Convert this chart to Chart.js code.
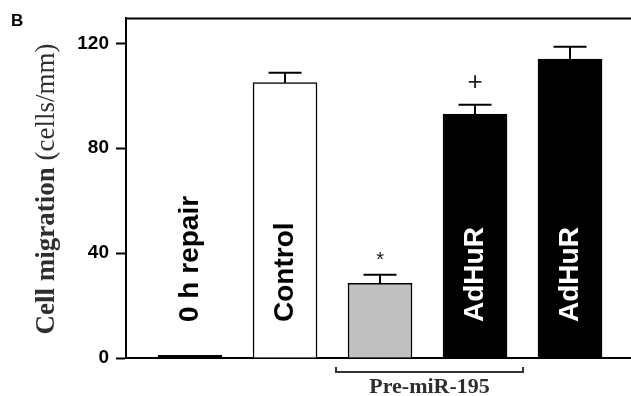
<!DOCTYPE html>
<html>
<head>
<meta charset="utf-8">
<script src="https://cdn.jsdelivr.net/npm/chart.js@4"></script>
<style>
  html, body { margin: 0; padding: 0; background: #fff; }
</style>
</head>
<body>
<canvas id="bar-chart" width="631" height="396"></canvas>
<script>
var barLabels = ["0 h repair", "Control", "", "AdHuR", "AdHuR"];
var migration = [1, 105, 28.5, 93, 114];
var errors = [0, 3.8, 3.2, 3.6, 4.7];
var marks = ["", "", "*", "+", ""];
var yTicks = [0, 40, 80, 120];
var bracketGroup = [2, 3];
var bracketLabel = "Pre-miR-195";

var ink = "#000000";
var titleInk = "#2e2e2e";

var extras = {
  id: "extras",
  afterDatasetsDraw: function (chart) {
    var ctx = chart.ctx;
    var x = chart.scales.x;
    var y = chart.scales.y;
    var area = chart.chartArea;
    ctx.save();

    // top frame line
    ctx.strokeStyle = ink;
    ctx.lineWidth = 2;
    ctx.beginPath();
    ctx.moveTo(area.left - 1, area.top);
    ctx.lineTo(area.right, area.top);
    ctx.stroke();

    // error bars + significance marks
    migration.forEach(function (v, i) {
      var px = x.getPixelForValue(i);
      var top = y.getPixelForValue(v);
      var cap = y.getPixelForValue(v + errors[i]);
      if (errors[i] > 0) {
        ctx.beginPath();
        ctx.moveTo(px, top);
        ctx.lineTo(px, cap);
        ctx.moveTo(px - 16.5, cap);
        ctx.lineTo(px + 16.5, cap);
        ctx.stroke();
      }
      if (marks[i]) {
        ctx.fillStyle = "#222";
        ctx.textAlign = "center";
        ctx.textBaseline = "middle";
        ctx.font = marks[i] == "*" ? "20px 'Liberation Sans'" : "26px 'Liberation Sans'";
        ctx.fillText(marks[i], px, cap - (marks[i] == "*" ? 14 : 22));
      }
    });

    // labels inside the bars
    var base = y.getPixelForValue(0);
    barLabels.forEach(function (t, i) {
      if (!t) return;
      ctx.save();
      ctx.translate(x.getPixelForValue(i), base - 36);
      ctx.rotate(-Math.PI / 2);
      ctx.fillStyle = i >= 3 ? "#ffffff" : ink;
      ctx.font = "bold 28px 'Liberation Sans'";
      ctx.textAlign = "left";
      ctx.textBaseline = "middle";
      ctx.fillText(t, 0, 0);
      ctx.restore();
    });

    // bracket under the pre-miR-195 group
    var bx1 = x.getPixelForValue(bracketGroup[0]) - 44;
    var bx2 = x.getPixelForValue(bracketGroup[1]) + 48;
    var by = base + 14;
    ctx.strokeStyle = "#333";
    ctx.beginPath();
    ctx.moveTo(bx1, by - 5);
    ctx.lineTo(bx1, by);
    ctx.lineTo(bx2, by);
    ctx.lineTo(bx2, by - 5);
    ctx.stroke();
    ctx.fillStyle = titleInk;
    ctx.font = "bold 22px 'Liberation Serif'";
    ctx.textAlign = "center";
    ctx.textBaseline = "alphabetic";
    ctx.fillText(bracketLabel, (bx1 + bx2) / 2, 393);

    // y axis title in two fonts
    var boldPart = "Cell migration ";
    var plainPart = "(cells/mm)";
    ctx.font = "bold 27px 'Liberation Serif'";
    var w1 = ctx.measureText(boldPart).width;
    ctx.font = "27px 'Liberation Serif'";
    var w2 = ctx.measureText(plainPart).width;
    ctx.save();
    ctx.translate(47, 189);
    ctx.rotate(-Math.PI / 2);
    ctx.textAlign = "left";
    ctx.textBaseline = "middle";
    ctx.fillStyle = titleInk;
    ctx.font = "bold 27px 'Liberation Serif'";
    ctx.fillText(boldPart, -(w1 + w2) / 2, 0);
    ctx.font = "27px 'Liberation Serif'";
    ctx.fillText(plainPart, -(w1 + w2) / 2 + w1, 0);
    ctx.restore();

    // panel letter
    ctx.fillStyle = ink;
    ctx.font = "bold 17px 'Liberation Sans'";
    ctx.textAlign = "left";
    ctx.textBaseline = "top";
    ctx.fillText("B", 11, 13);

    ctx.restore();
  },
};

var config = {
  type: "bar",
  data: {
    datasets: [
      {
        data: migration.map(function (v, i) {
          return { x: i, y: v };
        }),
        backgroundColor: ["#000000", "#ffffff", "#c0c0c0", "#000000", "#000000"],
        borderColor: ink,
        borderWidth: 1.5,
        barThickness: 64,
      },
    ],
  },
  options: {
    responsive: false,
    animation: false,
    devicePixelRatio: 1,
    layout: { padding: { top: 18, right: 0, bottom: 0, left: 0 } },
    plugins: {
      legend: { display: false },
      tooltip: { enabled: false },
    },
    scales: {
      x: {
        type: "linear",
        offset: false,
        min: -0.674,
        max: 4.642,
        grid: { display: false, offset: false },
        ticks: { display: false },
        border: { display: true, color: ink, width: 2 },
        afterFit: function (s) {
          s.height = 38;
        },
      },
      y: {
        min: 0,
        max: 129.5,
        afterBuildTicks: function (s) {
          s.ticks = yTicks.map(function (v) {
            return { value: v };
          });
        },
        afterFit: function (s) {
          s.width = 126;
        },
        grid: {
          drawOnChartArea: false,
          tickLength: 10,
          tickWidth: 2,
          tickColor: ink,
        },
        border: { display: true, color: ink, width: 2 },
        ticks: {
          color: ink,
          padding: 7,
          font: { family: "'Liberation Sans'", size: 19, weight: "bold" },
        },
      },
    },
  },
  plugins: [extras],
};

var ctxOne = document.getElementById("bar-chart").getContext("2d");
new Chart(ctxOne, config);
</script>
</body>
</html>
